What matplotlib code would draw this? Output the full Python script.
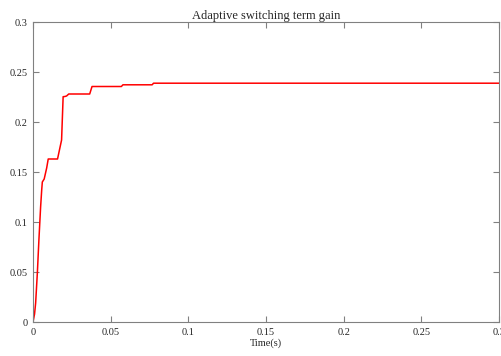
import matplotlib
matplotlib.use('Agg')
import matplotlib.pyplot as plt

# Adaptive switching term gain
t = [0.0, 0.001, 0.0017, 0.0028, 0.0038, 0.0049, 0.0056, 0.006, 0.0072,
     0.0088, 0.0098, 0.0158, 0.0173, 0.0184, 0.0194, 0.0205, 0.0216,
     0.023, 0.0365, 0.038, 0.0569, 0.0579, 0.0767, 0.0776, 0.3]
gain = [0.0, 0.008, 0.019, 0.049, 0.082, 0.115, 0.132, 0.140, 0.143,
        0.154, 0.163, 0.163, 0.174, 0.182, 0.2253, 0.2255, 0.226,
        0.228, 0.228, 0.2355, 0.2355, 0.2372, 0.2372, 0.2388, 0.2388]

xticks = [0, 0.05, 0.1, 0.15, 0.2, 0.25, 0.3]
xlabels = ['0', '0.05', '0.1', '0.15', '0.2', '0.25', '0.3']
yticks = [0, 0.05, 0.1, 0.15, 0.2, 0.25, 0.3]
ylabels = ['0', '0.05', '0.1', '0.15', '0.2', '0.25', '0.3']

plt.rcParams['font.family'] = ['Liberation Serif', 'DejaVu Serif']
plt.rcParams['font.size'] = 7.5

fig = plt.figure(figsize=(5.02, 3.56), dpi=100)
ax = fig.add_axes([33 / 502, 1 - 322 / 356, 466 / 502, 300 / 356])

ax.plot(t, gain, color='#ff0000', lw=1.1)

ax.set_xlim(0, 0.3)
ax.set_ylim(0, 0.3)
ax.set_xticks(xticks)
ax.set_xticklabels(xlabels)
ax.set_yticks(yticks)
ax.set_yticklabels(ylabels)
ax.tick_params(direction='in', length=4, width=0.8, color='#808080',
               top=True, right=True, labelcolor='#262626', pad=4)
for s in ax.spines.values():
    s.set_color('#808080')
    s.set_linewidth(0.8)

ax.set_xlabel('Time(s)', labelpad=1, color='#262626')
ax.set_title('Adaptive switching term gain', pad=2, color='#262626')

fig.savefig('out.png', dpi=100)
